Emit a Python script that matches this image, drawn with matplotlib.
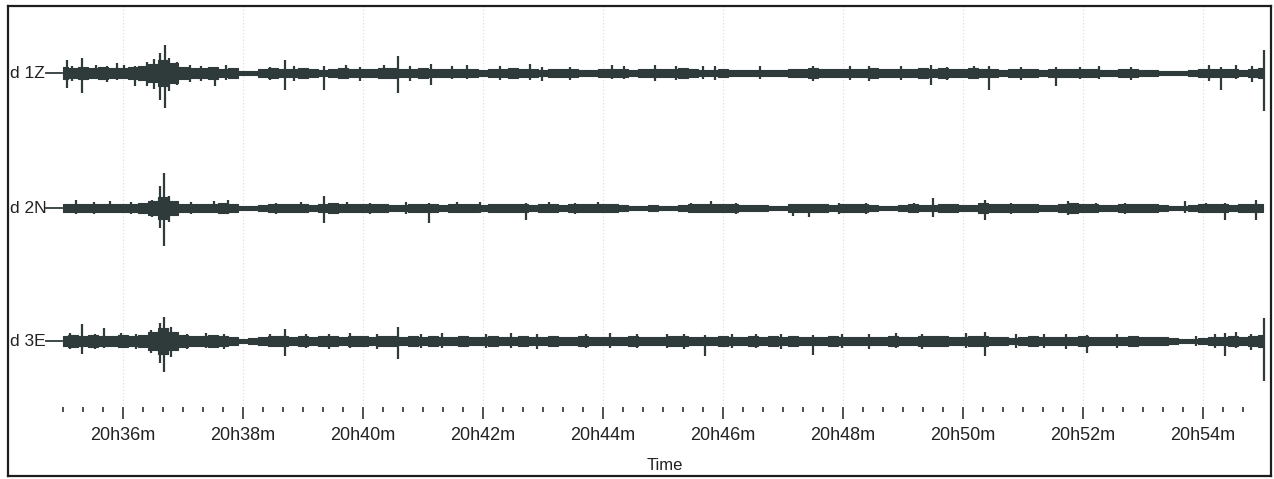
import numpy as np
import matplotlib
matplotlib.use("Agg")
import matplotlib.pyplot as plt

# seconds after 20h35m00s, one envelope value every 10 s
t_env = np.arange(0, 1201, 10)

# half-width of the trace band (counts)
amp_1z = [6, 5, 6, 5, 6, 5, 5, 6, 7, 9, 13, 10, 6, 5, 5, 6, 4, 5, 2, 2,
          4, 5, 4, 4, 5, 4, 3, 4, 5, 4, 4, 4, 5, 5, 4, 4, 5, 4, 4, 4,
          4, 4, 3, 4, 4, 5, 4, 4, 3, 4, 4, 4, 3, 3, 4, 4, 4, 3, 4, 4,
          4, 4, 5, 4, 3, 3, 4, 3, 3, 3, 3, 3, 3, 4, 4, 5, 4, 4, 4, 4,
          4, 5, 4, 4, 4, 4, 5, 4, 5, 4, 4, 5, 4, 4, 3, 4, 4, 4, 3, 4,
          4, 4, 4, 4, 3, 3, 4, 4, 3, 3, 2, 2, 2, 3, 4, 4, 4, 4, 3, 4, 5]
amp_2n = [4, 4, 4, 4, 4, 4, 4, 4, 5, 7, 11, 7, 4, 4, 4, 4, 5, 4, 2, 2,
          3, 4, 4, 4, 4, 3, 4, 5, 4, 4, 4, 4, 4, 3, 3, 4, 4, 4, 3, 4,
          4, 4, 3, 4, 4, 4, 4, 3, 4, 4, 3, 4, 4, 4, 4, 4, 3, 2, 2, 3,
          2, 2, 3, 4, 4, 4, 4, 4, 3, 3, 3, 2, 2, 4, 4, 4, 4, 3, 4, 4,
          4, 3, 2, 2, 3, 4, 3, 3, 4, 4, 3, 3, 5, 4, 4, 4, 4, 4, 3, 3,
          4, 5, 4, 4, 3, 3, 4, 4, 4, 4, 3, 2, 2, 3, 4, 4, 4, 3, 4, 4, 4]
amp_3e = [5, 6, 5, 6, 5, 5, 6, 5, 6, 9, 13, 9, 6, 5, 5, 6, 5, 4, 2, 3,
          4, 5, 5, 4, 5, 4, 5, 5, 4, 5, 5, 4, 5, 5, 4, 5, 4, 5, 4, 4,
          5, 4, 4, 5, 4, 4, 5, 4, 4, 5, 4, 4, 5, 4, 4, 4, 4, 5, 4, 4,
          4, 5, 5, 4, 4, 4, 5, 4, 4, 5, 4, 5, 4, 5, 4, 4, 4, 5, 4, 4,
          4, 4, 4, 5, 4, 4, 5, 5, 5, 4, 4, 5, 5, 4, 4, 3, 4, 5, 4, 4,
          4, 4, 5, 4, 4, 4, 4, 5, 4, 4, 4, 3, 2, 2, 3, 4, 4, 5, 4, 5, 6]

# single excursions beyond the band: (time s, up, down)
spikes_1z = [(4, 13, 15), (9, 7, 8), (19, 15, 20), (33, 8, 6), (44, 7, 9), (54, 10, 7),
             (61, 8, 6), (72, 7, 13), (84, 11, 13), (91, 14, 16), (97, 20, 27),
             (102, 28, 35), (106, 15, 18), (114, 11, 12), (127, 8, 9), (138, 7, 8),
             (152, 6, 13), (163, 8, 7), (207, 6, 7), (222, 13, 17), (231, 7, 8),
             (261, 7, 17), (283, 8, 6), (297, 6, 8), (321, 8, 6),
             (335, 17, 20), (347, 7, 8), (368, 9, 12), (389, 7, 6), (404, 8, 6),
             (437, 7, 7), (467, 9, 7), (479, 6, 8), (507, 6, 7),
             (549, 8, 6), (561, 7, 6), (592, 8, 8), (613, 7, 7),
             (640, 7, 6), (652, 7, 7), (697, 7, 6), (750, 7, 8),
             (787, 7, 7), (806, 7, 8), (838, 7, 7), (868, 8, 12),
             (884, 6, 7), (911, 7, 6), (926, 7, 17), (958, 6, 7),
             (993, 6, 13), (1017, 6, 6), (1036, 7, 6), (1068, 6, 7),
             (1146, 8, 8), (1158, 6, 17), (1173, 8, 6), (1189, 7, 9),
             (1201, 23, 38)]
spikes_2n = [(13, 8, 6), (31, 6, 6), (47, 7, 5), (68, 6, 6),
             (89, 8, 9), (97, 22, 20), (101, 35, 38), (106, 12, 14), (128, 6, 6),
             (151, 7, 5), (165, 8, 6), (213, 5, 6), (238, 6, 5),
             (261, 12, 15), (284, 6, 5), (307, 5, 6), (343, 6, 6),
             (366, 5, 15), (394, 6, 5), (417, 6, 5), (463, 5, 12),
             (486, 6, 5), (512, 5, 6), (535, 6, 5), (628, 5, 5), (648, 7, 5),
             (673, 5, 6), (730, 4, 8), (746, 4, 9), (776, 5, 6), (803, 5, 6),
             (851, 5, 5), (870, 10, 9), (922, 8, 12), (948, 5, 6),
             (1005, 7, 7), (1033, 5, 5), (1062, 5, 6), (1122, 7, 5),
             (1143, 5, 5), (1162, 5, 12), (1193, 8, 12)]
spikes_3e = [(7, 8, 8), (19, 17, 13), (32, 7, 8), (41, 13, 7), (58, 8, 7), (73, 7, 8),
             (88, 11, 12), (97, 18, 22), (101, 24, 31), (108, 14, 16), (124, 7, 8),
             (143, 8, 7), (161, 7, 8), (207, 7, 6), (222, 12, 15), (243, 7, 7),
             (266, 7, 8), (287, 8, 7), (314, 7, 8), (335, 14, 18),
             (358, 7, 7), (379, 8, 7), (423, 7, 7), (448, 8, 7),
             (474, 7, 8), (523, 7, 7), (547, 8, 7), (574, 7, 7),
             (604, 7, 7), (621, 7, 8), (642, 6, 15), (669, 7, 7), (693, 7, 7),
             (718, 7, 8), (750, 6, 14), (779, 7, 7), (806, 7, 8), (833, 8, 7),
             (859, 7, 8), (903, 8, 7), (922, 9, 15), (953, 7, 7),
             (981, 7, 7), (1003, 7, 8), (1024, 6, 12), (1054, 7, 7),
             (1133, 5, 5), (1152, 7, 7), (1162, 8, 15), (1173, 9, 7), (1188, 7, 9),
             (1201, 23, 40)]

channels = ["d 1Z", "d 2N", "d 3E"]
amps = [amp_1z, amp_2n, amp_3e]
spikes = [spikes_1z, spikes_2n, spikes_3e]
centers = [73, 208, 341]

major_t = np.arange(60, 1141, 120)
major_lab = ["20h%02dm" % (35 + t // 60) for t in major_t]
minor_t = np.arange(0, 1181, 20)

W, H = 1274, 479
col = "#2f3a3b"
fnt = "Liberation Sans"

fig = plt.figure(figsize=(W / 100, H / 100), dpi=100)
ax = fig.add_axes([8 / W, 3 / H, 1263 / W, 470 / H])
ax.set_xlim(-55, 1208)
ax.set_ylim(476, 6)
ax.set_xticks([])
ax.set_yticks([])
for s in ax.spines.values():
    s.set_color("#1e1e1e")
    s.set_linewidth(1.6)

ax.vlines(major_t, 6, 405, colors="#dadada", linestyles=(0, (1, 2)), linewidth=0.8, zorder=0)

for name, a, sp, c in zip(channels, amps, spikes, centers):
    a = np.array(a, dtype=float)
    ax.fill_between(t_env, c - a, c + a, step="mid", color=col, linewidth=0.8, edgecolor=col)
    st = np.array([p[0] for p in sp])
    up = np.array([p[1] for p in sp])
    dn = np.array([p[2] for p in sp])
    ax.vlines(st, c - up, c + dn, colors=col, linewidth=1.6)
    ax.plot([-17, -1], [c, c], color=col, linewidth=1.3)
    ax.text(-53, c, name, fontsize=12.5, family=fnt, va="center", ha="left", color="#222222")

# time axis
tax = fig.add_axes([8 / W, (H - 407) / H, 1263 / W, 0.0001])
tax.set_xlim(-55, 1208)
tax.set_yticks([])
for s in tax.spines.values():
    s.set_visible(False)
tax.set_xticks(major_t)
tax.set_xticklabels(major_lab, fontsize=13, family=fnt, color="#222222")
tax.set_xticks(minor_t, minor=True)
tax.tick_params(which="major", direction="out", length=8.6, width=1.1, color="#222222", pad=5.5)
tax.tick_params(which="minor", direction="out", length=3.6, width=1.1, color="#222222")
tax.patch.set_alpha(0)

fig.text(665 / W, (H - 466) / H, "Time", fontsize=12, family=fnt, ha="center", va="center", color="#222222")

fig.savefig("out.png", dpi=100)
